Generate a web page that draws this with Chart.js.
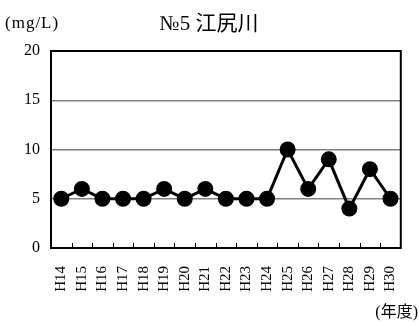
<!DOCTYPE html>
<html>
<head>
<meta charset="utf-8">
<script src="https://cdn.jsdelivr.net/npm/chart.js"></script>
<style>
  html, body { margin: 0; padding: 0; background: #fff; }
  #wrap { position: relative; width: 419px; height: 324px; }
</style>
</head>
<body>
<div id="wrap"><canvas id="grafico" width="419" height="324"></canvas></div>
<script>
// datos del grafico
const titulo = "№5 江尻川"
const unidad = "(mg/L)"
const unidadX = "(年度)"
const anios = ["H14", "H15", "H16", "H17", "H18", "H19", "H20", "H21", "H22",
    "H23", "H24", "H25", "H26", "H27", "H28", "H29", "H30"]
const valores = [5, 6, 5, 5, 5, 6, 5, 6, 5, 5, 5, 10, 6, 9, 4, 8, 5]
const ticksY = [0, 5, 10, 15, 20]

const fuente = "'Liberation Serif', 'Noto Sans CJK JP', serif"

// textos y marcas de la escala x que Chart.js no dibuja solo
const extras = {
    id: "extras",
    afterDraw(chart) {
        const ctx = chart.ctx
        const area = chart.chartArea
        const x = chart.scales.x
        ctx.save()
        ctx.strokeStyle = "#000"
        ctx.lineWidth = 2
        ctx.strokeRect(area.left, area.top, area.right - area.left, area.bottom - area.top)
        ctx.lineWidth = 1
        for (let i = 1; i < anios.length; i++) {
            let px = Math.round((x.getPixelForValue(i - 1) + x.getPixelForValue(i)) / 2) + 0.5
            ctx.beginPath()
            ctx.moveTo(px, area.bottom)
            ctx.lineTo(px, area.bottom - 5)
            ctx.stroke()
        }
        ctx.fillStyle = "#000"
        ctx.textBaseline = "middle"
        ctx.font = "21px " + fuente
        ctx.textAlign = "center"
        ctx.fillText(titulo, 209, 24)
        ctx.font = "17px " + fuente
        ctx.letterSpacing = "1px"
        ctx.textAlign = "left"
        ctx.fillText(unidad, 5, 24)
        ctx.letterSpacing = "0px"
        ctx.font = "16px " + fuente
        ctx.textAlign = "right"
        ctx.fillText(unidadX, 418, 313)
        ctx.restore()
    }
}

new Chart(document.getElementById("grafico"), {
    type: "line",
    data: {
        labels: anios,
        datasets: [{
            data: valores,
            borderColor: "#000",
            backgroundColor: "#000",
            borderWidth: 3,
            pointRadius: 6.5,
            pointHoverRadius: 6.5,
            tension: 0
        }]
    },
    options: {
        responsive: false,
        animation: false,
        events: [],
        layout: { padding: { top: 51, right: 17, bottom: 0, left: 0 } },
        plugins: { legend: { display: false }, tooltip: { enabled: false } },
        scales: {
            x: {
                offset: true,
                afterFit: (eje) => { eje.height = 76 },
                border: { color: "#000", width: 2 },
                grid: { display: false },
                ticks: {
                    color: "#000",
                    font: { family: fuente, size: 15 },
                    minRotation: 90,
                    maxRotation: 90,
                    autoSkip: false,
                    padding: 10
                }
            },
            y: {
                min: 0,
                max: 20,
                afterFit: (eje) => { eje.width = 51 },
                afterBuildTicks: (eje) => { eje.ticks = ticksY.map(v => ({ value: v })) },
                border: { color: "#000", width: 2 },
                grid: { color: "#808080", lineWidth: 1.5, drawTicks: false },
                ticks: {
                    color: "#000",
                    font: { family: fuente, size: 16 },
                    padding: 11
                }
            }
        }
    },
    plugins: [extras]
})
</script>
</body>
</html>
